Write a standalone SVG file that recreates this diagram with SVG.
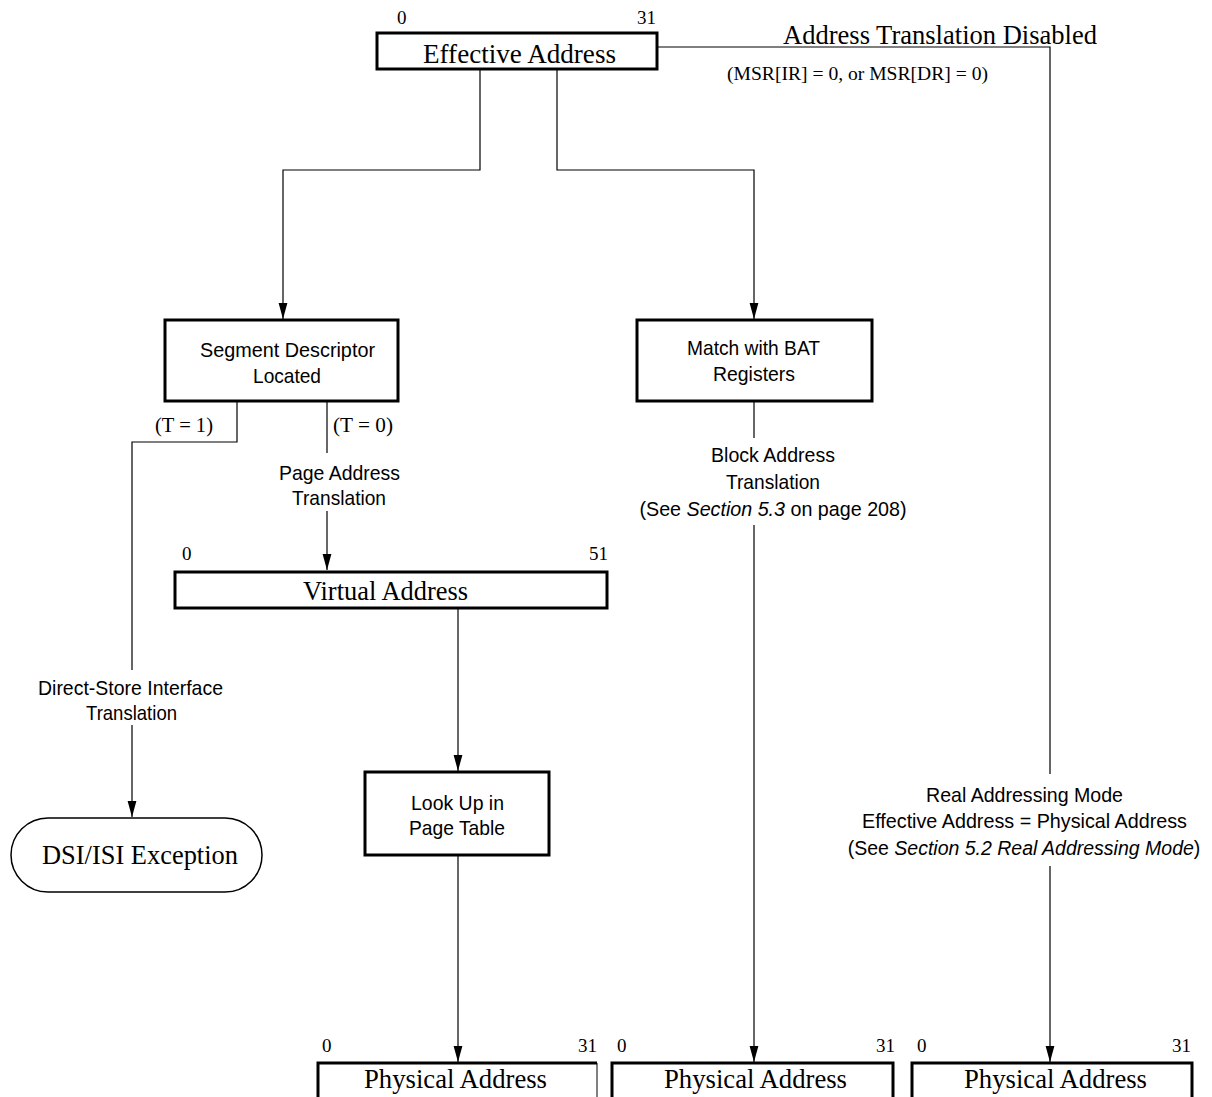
<svg xmlns="http://www.w3.org/2000/svg" width="1212" height="1097" viewBox="0 0 1212 1097">
<style>
.box{fill:#fff;stroke:#000;stroke-width:3}
.ln{fill:none;stroke:#000;stroke-width:1.2}
.serif{font-family:"Liberation Serif","Times New Roman",serif;fill:#000}
.sans{font-family:"Liberation Sans",Arial,sans-serif;fill:#000;font-size:21px}
.big{font-size:27px}
.num{font-size:19px}
.mid{text-anchor:middle}
.end{text-anchor:end}
</style>
<defs>
<marker id="ar" viewBox="0 0 16 10" markerWidth="16" markerHeight="10" refX="16" refY="5" orient="auto" markerUnits="userSpaceOnUse">
<path d="M0,0.6 L16,5 L0,9.4 Z" fill="#000"/>
</marker>
</defs>
<rect width="1212" height="1097" fill="#fff"/>

<g id="connectors">
<path class="ln" d="M657,47 H1050 V774"/>
<path class="ln" d="M1050,866 V1062" marker-end="url(#ar)"/>
<path class="ln" d="M480,69 V170 H283 V319" marker-end="url(#ar)"/>
<path class="ln" d="M557,69 V170 H754 V319" marker-end="url(#ar)"/>
<path class="ln" d="M237,401 V442 H132 V670"/>
<path class="ln" d="M132,725 V817" marker-end="url(#ar)"/>
<path class="ln" d="M327,401 V453"/>
<path class="ln" d="M327,511 V570" marker-end="url(#ar)"/>
<path class="ln" d="M458,608 V771" marker-end="url(#ar)"/>
<path class="ln" d="M458,855 V1062" marker-end="url(#ar)"/>
<path class="ln" d="M754,401 V438"/>
<path class="ln" d="M754,525 V1062" marker-end="url(#ar)"/>
</g>

<g id="labels">
<text class="serif big" x="783" y="44" textLength="314" lengthAdjust="spacingAndGlyphs">Address Translation Disabled</text>
<text class="serif" x="727" y="80" font-size="19" textLength="261" lengthAdjust="spacingAndGlyphs">(MSR[IR] = 0, or MSR[DR] = 0)</text>
<text class="serif" x="155" y="432" font-size="20" textLength="58" lengthAdjust="spacingAndGlyphs">(T = 1)</text>
<text class="serif" x="333" y="432" font-size="20" textLength="60" lengthAdjust="spacingAndGlyphs">(T = 0)</text>
<text class="sans" x="279" y="480" textLength="121" lengthAdjust="spacingAndGlyphs">Page Address</text>
<text class="sans" x="292" y="505" textLength="94" lengthAdjust="spacingAndGlyphs">Translation</text>
<text class="sans" x="711" y="462" textLength="124" lengthAdjust="spacingAndGlyphs">Block Address</text>
<text class="sans" x="726" y="489" textLength="94" lengthAdjust="spacingAndGlyphs">Translation</text>
<text class="sans mid" x="773" y="516" style="font-size:19.7px">(See <tspan font-style="italic">Section 5.3</tspan> on page 208)</text>
<text class="sans" x="38" y="695" textLength="185" lengthAdjust="spacingAndGlyphs">Direct-Store Interface</text>
<text class="sans" x="86" y="720" textLength="91" lengthAdjust="spacingAndGlyphs">Translation</text>
<text class="sans" x="926" y="802" textLength="197" lengthAdjust="spacingAndGlyphs">Real Addressing Mode</text>
<text class="sans" x="862" y="828" textLength="325" lengthAdjust="spacingAndGlyphs">Effective Address = Physical Address</text>
<text class="sans mid" x="1024" y="855" style="font-size:19.5px">(See <tspan font-style="italic">Section 5.2 Real Addressing Mode</tspan>)</text>
</g>

<g id="effective-address">
<rect class="box" x="377" y="33" width="280" height="36"/>
<text class="serif num" x="397" y="24">0</text>
<text class="serif num end" x="656" y="24">31</text>
<text class="serif big" x="423" y="63" textLength="193" lengthAdjust="spacingAndGlyphs">Effective Address</text>
</g>

<g id="segment-descriptor">
<rect class="box" x="165" y="320" width="233" height="81"/>
<text class="sans" x="200" y="357" textLength="175" lengthAdjust="spacingAndGlyphs">Segment Descriptor</text>
<text class="sans" x="253" y="383" textLength="68" lengthAdjust="spacingAndGlyphs">Located</text>
</g>

<g id="match-bat">
<rect class="box" x="637" y="320" width="235" height="81"/>
<text class="sans" x="687" y="355" textLength="133" lengthAdjust="spacingAndGlyphs">Match with BAT</text>
<text class="sans" x="713" y="381" textLength="82" lengthAdjust="spacingAndGlyphs">Registers</text>
</g>

<g id="virtual-address">
<rect class="box" x="175" y="572" width="432" height="36"/>
<text class="serif num" x="182" y="560">0</text>
<text class="serif num end" x="608" y="560">51</text>
<text class="serif big" x="303" y="600" textLength="165" lengthAdjust="spacingAndGlyphs">Virtual Address</text>
</g>

<g id="lookup">
<rect class="box" x="365" y="772" width="184" height="83"/>
<text class="sans" x="411" y="810" textLength="93" lengthAdjust="spacingAndGlyphs">Look Up in</text>
<text class="sans" x="409" y="835" textLength="96" lengthAdjust="spacingAndGlyphs">Page Table</text>
</g>

<g id="dsi-isi">
<rect x="11" y="818" width="251" height="74" rx="37" ry="37" fill="#fff" stroke="#000" stroke-width="1.5"/>
<text class="serif big" x="42" y="864" textLength="196" lengthAdjust="spacingAndGlyphs">DSI/ISI Exception</text>
</g>

<g id="physical-1">
<path d="M318,1100 V1063 H597" fill="none" stroke="#000" stroke-width="3"/>
<path d="M597,1063 V1100" fill="none" stroke="#000" stroke-width="1"/>
<text class="serif num" x="322" y="1052">0</text>
<text class="serif num end" x="597" y="1052">31</text>
<text class="serif big" x="364" y="1088" textLength="183" lengthAdjust="spacingAndGlyphs">Physical Address</text>
</g>

<g id="physical-2">
<path d="M612,1100 V1063 H893 V1100" fill="none" stroke="#000" stroke-width="3"/>
<text class="serif num" x="617" y="1052">0</text>
<text class="serif num end" x="895" y="1052">31</text>
<text class="serif big" x="664" y="1088" textLength="183" lengthAdjust="spacingAndGlyphs">Physical Address</text>
</g>

<g id="physical-3">
<path d="M912,1100 V1063 H1192 V1100" fill="none" stroke="#000" stroke-width="3"/>
<text class="serif num" x="917" y="1052">0</text>
<text class="serif num end" x="1191" y="1052">31</text>
<text class="serif big" x="964" y="1088" textLength="183" lengthAdjust="spacingAndGlyphs">Physical Address</text>
</g>
</svg>
